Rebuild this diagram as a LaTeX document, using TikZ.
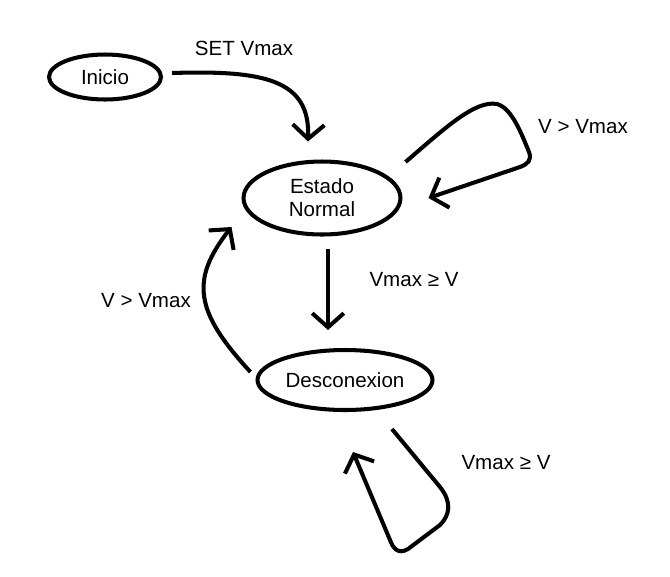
\documentclass[tikz,border=0pt]{standalone}
\usepackage{fontspec}
\setmainfont{Liberation Sans}
\usetikzlibrary{shapes.geometric,arrows.meta,calc}
\begin{document}
\begin{tikzpicture}[x=0.02cm,y=-0.02cm,
  every node/.style={font=\fontsize{11.7}{13}\selectfont},
  state/.style={draw,ellipse,line width=2.3pt,inner sep=0pt,align=center},
  arr/.style={line width=2.3pt,-{Straight Barb[length=8pt,width=18pt]}}]
  \useasboundingbox (0,0) rectangle (670,576);
  % estados
  \node[state,minimum width=2.24cm,minimum height=0.9cm] (ini) at (105,77) {Inicio};
  \node[state,minimum width=3.14cm,minimum height=1.46cm] (en) at (322,198) {Estado\\Normal};
  \node[state,minimum width=3.5cm,minimum height=1.2cm] (des) at (345,380) {Desconexion};
  % etiquetas
  \node (lSet) at (244,48) {SET Vmax};
  \node (lEnLoop) at (583,127) {V > Vmax};
  \node (lEnDes) at (414,280) {Vmax ≥ V};
  \node (lDesEn) at (146,301) {V > Vmax};
  \node (lDesLoop) at (506,463) {Vmax ≥ V};
  % transiciones
  \draw[arr] ($(ini.east)+(9,-4)$) .. controls (265,70) and (310,80) .. ($(en.north)+(-14,-18)$);
  \draw[arr] ($(en.east)+(3,-36)$) .. controls (445,128) and (475,100) .. (497,104)
    .. controls (512,108) and (522,135) .. (529,152)
    .. controls (532,160) and (528,164) .. (520,167) -- ($(en.east)+(26,0)$);
  \draw[arr] ($(en.south)+(6,12)$) -- ($(des.north)+(-17,-18)$);
  \draw[arr] ($(des.west)+(-5,-8)$) .. controls (195,312) and (190,280) .. ($(en.west)+(-10,29)$);
  \draw[arr] ($(des.south)+(47,17)$) -- (440,487) .. controls (452,502) and (450,515) .. (440,525)
    -- (408,549) .. controls (398,555) and (393,548) .. (390,540) -- ($(des.south)+(8,40)$);
\end{tikzpicture}
\end{document}
